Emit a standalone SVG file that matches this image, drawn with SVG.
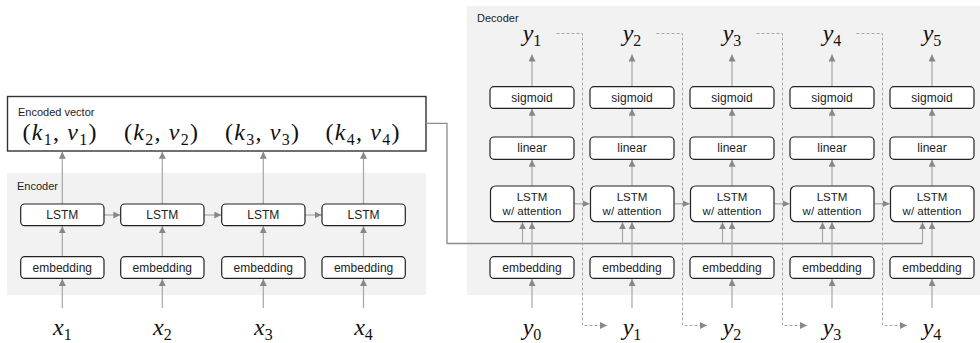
<svg xmlns="http://www.w3.org/2000/svg" width="980" height="343" viewBox="0 0 980 343">
  <defs>
    <marker id="arr" markerUnits="userSpaceOnUse" markerWidth="8" markerHeight="8" refX="7" refY="3.5" orient="auto">
      <path d="M0,0 L7,3.5 L0,7 z" fill="#888"/>
    </marker>
    <style>
      .panel { fill: #f2f2f2; }
      .box { fill: #fff; stroke: #222; stroke-width: 1.2; }
      .lbl { font-family: "Liberation Sans", Arial, sans-serif; font-size: 12px; fill: #222; text-anchor: middle; }
      .lbl2 { font-family: "Liberation Sans", Arial, sans-serif; font-size: 11.5px; fill: #222; text-anchor: middle; }
      .title { font-family: "Liberation Sans", Arial, sans-serif; font-size: 11px; fill: #222; }
      .math { font-family: "Liberation Serif", "Times New Roman", serif; font-size: 24px; font-style: italic; fill: #111; text-anchor: middle; }
      .sub { font-size: 16px; font-style: normal; }
      .up { font-style: normal; }
      .wire { fill: none; stroke: #a6a6a6; stroke-width: 1.2; marker-end: url(#arr); }
      .bus { fill: none; stroke: #8c8c8c; stroke-width: 1.3; }
      .dash { fill: none; stroke: #a6a6a6; stroke-width: 1; stroke-dasharray: 3 2; marker-end: url(#arr); }
    </style>
  </defs>

  <!-- background panels -->
  <rect class="panel" x="7" y="173" width="419" height="122"/>
  <rect class="panel" x="466.7" y="6" width="513.3" height="289"/>
  <text class="title" x="17" y="190">Encoder</text>
  <text class="title" x="477" y="22">Decoder</text>

  <!-- encoded vector -->
  <g id="encoded-vector">
    <rect x="7.5" y="96.5" width="418.5" height="54.5" fill="#fff" stroke="#333" stroke-width="1.4"/>
    <text class="title" x="18" y="116">Encoded vector</text>
    <text class="math" x="59.5" y="140" textLength="74" lengthAdjust="spacing"><tspan class="up">(</tspan>k<tspan class="sub" dy="5">1</tspan><tspan class="up" dy="-5">, </tspan>v<tspan class="sub" dy="5">1</tspan><tspan class="up" dy="-5">)</tspan></text>
    <text class="math" x="161" y="140" textLength="74" lengthAdjust="spacing"><tspan class="up">(</tspan>k<tspan class="sub" dy="5">2</tspan><tspan class="up" dy="-5">, </tspan>v<tspan class="sub" dy="5">2</tspan><tspan class="up" dy="-5">)</tspan></text>
    <text class="math" x="262" y="140" textLength="74" lengthAdjust="spacing"><tspan class="up">(</tspan>k<tspan class="sub" dy="5">3</tspan><tspan class="up" dy="-5">, </tspan>v<tspan class="sub" dy="5">3</tspan><tspan class="up" dy="-5">)</tspan></text>
    <text class="math" x="362.5" y="140" textLength="74" lengthAdjust="spacing"><tspan class="up">(</tspan>k<tspan class="sub" dy="5">4</tspan><tspan class="up" dy="-5">, </tspan>v<tspan class="sub" dy="5">4</tspan><tspan class="up" dy="-5">)</tspan></text>
  </g>

  <!-- connectors -->
  <g id="connectors">
    <!-- encoder inputs -->
    <line class="wire" x1="62.3" y1="308" x2="62.3" y2="279"/>
    <line class="wire" x1="162.3" y1="308" x2="162.3" y2="279"/>
    <line class="wire" x1="263.3" y1="308" x2="263.3" y2="279"/>
    <line class="wire" x1="363.5" y1="308" x2="363.5" y2="279"/>
    <!-- encoder embedding to LSTM -->
    <line class="wire" x1="62.3" y1="256.7" x2="62.3" y2="226.2"/>
    <line class="wire" x1="162.3" y1="256.7" x2="162.3" y2="226.2"/>
    <line class="wire" x1="263.3" y1="256.7" x2="263.3" y2="226.2"/>
    <line class="wire" x1="363.5" y1="256.7" x2="363.5" y2="226.2"/>
    <!-- encoder LSTM to encoded vector -->
    <line class="wire" x1="62.3" y1="204" x2="62.3" y2="151.8"/>
    <line class="wire" x1="162.3" y1="204" x2="162.3" y2="151.8"/>
    <line class="wire" x1="263.3" y1="204" x2="263.3" y2="151.8"/>
    <line class="wire" x1="363.5" y1="204" x2="363.5" y2="151.8"/>
    <!-- encoder recurrence -->
    <line class="wire" x1="104" y1="215" x2="120.3" y2="215"/>
    <line class="wire" x1="204" y1="215" x2="221.3" y2="215"/>
    <line class="wire" x1="305" y1="215" x2="321.6" y2="215"/>

    <!-- context bus into the decoder -->
    <path class="bus" d="M426,123.3 H447 V243.5 H922.5"/>
    <line class="wire" x1="522.5" y1="243.5" x2="522.5" y2="222.2"/>
    <line class="wire" x1="622.5" y1="243.5" x2="622.5" y2="222.2"/>
    <line class="wire" x1="722.5" y1="243.5" x2="722.5" y2="222.2"/>
    <line class="wire" x1="822.5" y1="243.5" x2="822.5" y2="222.2"/>
    <line class="wire" x1="922.5" y1="243.5" x2="922.5" y2="222.2"/>

    <!-- decoder inputs -->
    <line class="wire" x1="532" y1="308" x2="532" y2="279"/>
    <line class="wire" x1="632" y1="308" x2="632" y2="279"/>
    <line class="wire" x1="732" y1="308" x2="732" y2="279"/>
    <line class="wire" x1="832" y1="308" x2="832" y2="279"/>
    <line class="wire" x1="932" y1="308" x2="932" y2="279"/>
    <!-- decoder embedding to LSTM -->
    <line class="wire" x1="532" y1="256.7" x2="532" y2="222.2"/>
    <line class="wire" x1="632" y1="256.7" x2="632" y2="222.2"/>
    <line class="wire" x1="732" y1="256.7" x2="732" y2="222.2"/>
    <line class="wire" x1="832" y1="256.7" x2="832" y2="222.2"/>
    <line class="wire" x1="932" y1="256.7" x2="932" y2="222.2"/>
    <!-- LSTM to linear -->
    <line class="wire" x1="532" y1="186" x2="532" y2="159.8"/>
    <line class="wire" x1="632" y1="186" x2="632" y2="159.8"/>
    <line class="wire" x1="732" y1="186" x2="732" y2="159.8"/>
    <line class="wire" x1="832" y1="186" x2="832" y2="159.8"/>
    <line class="wire" x1="932" y1="186" x2="932" y2="159.8"/>
    <!-- linear to sigmoid -->
    <line class="wire" x1="532" y1="137" x2="532" y2="108.8"/>
    <line class="wire" x1="632" y1="137" x2="632" y2="108.8"/>
    <line class="wire" x1="732" y1="137" x2="732" y2="108.8"/>
    <line class="wire" x1="832" y1="137" x2="832" y2="108.8"/>
    <line class="wire" x1="932" y1="137" x2="932" y2="108.8"/>
    <!-- sigmoid to outputs -->
    <line class="wire" x1="532" y1="86.7" x2="532" y2="54.5"/>
    <line class="wire" x1="632" y1="86.7" x2="632" y2="54.5"/>
    <line class="wire" x1="732" y1="86.7" x2="732" y2="54.5"/>
    <line class="wire" x1="832" y1="86.7" x2="832" y2="54.5"/>
    <line class="wire" x1="932" y1="86.7" x2="932" y2="54.5"/>
    <!-- decoder recurrence -->
    <line class="wire" x1="574" y1="203.8" x2="589.6" y2="203.8"/>
    <line class="wire" x1="674" y1="203.8" x2="689.6" y2="203.8"/>
    <line class="wire" x1="774" y1="203.8" x2="789.6" y2="203.8"/>
    <line class="wire" x1="874" y1="203.8" x2="889.6" y2="203.8"/>
    <!-- outputs fed back as next inputs -->
    <path class="dash" d="M556.5,33.5 H582.5 V325.5 H607"/>
    <path class="dash" d="M656.5,33.5 H682.5 V325.5 H707"/>
    <path class="dash" d="M756.5,33.5 H782.5 V325.5 H807"/>
    <path class="dash" d="M856.5,33.5 H882.5 V325.5 H907"/>
  </g>

  <!-- encoder nodes -->
  <g id="enc-lstm-1"><rect class="box" x="20.7" y="204" width="83.3" height="21.7" rx="4"/><text class="lbl" x="62.3" y="219">LSTM</text></g>
  <g id="enc-lstm-2"><rect class="box" x="120.7" y="204" width="83.3" height="21.7" rx="4"/><text class="lbl" x="162.3" y="219">LSTM</text></g>
  <g id="enc-lstm-3"><rect class="box" x="221.7" y="204" width="83.3" height="21.7" rx="4"/><text class="lbl" x="263.3" y="219">LSTM</text></g>
  <g id="enc-lstm-4"><rect class="box" x="322" y="204" width="83.3" height="21.7" rx="4"/><text class="lbl" x="363.6" y="219">LSTM</text></g>
  <g id="enc-emb-1"><rect class="box" x="20.7" y="256.7" width="83.3" height="21.7" rx="4"/><text class="lbl" x="62.3" y="271.7">embedding</text></g>
  <g id="enc-emb-2"><rect class="box" x="120.7" y="256.7" width="83.3" height="21.7" rx="4"/><text class="lbl" x="162.3" y="271.7">embedding</text></g>
  <g id="enc-emb-3"><rect class="box" x="221.7" y="256.7" width="83.3" height="21.7" rx="4"/><text class="lbl" x="263.3" y="271.7">embedding</text></g>
  <g id="enc-emb-4"><rect class="box" x="322" y="256.7" width="83.3" height="21.7" rx="4"/><text class="lbl" x="363.6" y="271.7">embedding</text></g>

  <!-- encoder inputs -->
  <g id="x-inputs">
    <text class="math" x="62.3" y="335">x<tspan class="sub" dy="5">1</tspan></text>
    <text class="math" x="162.3" y="335">x<tspan class="sub" dy="5">2</tspan></text>
    <text class="math" x="263.3" y="335">x<tspan class="sub" dy="5">3</tspan></text>
    <text class="math" x="363.5" y="335">x<tspan class="sub" dy="5">4</tspan></text>
  </g>

  <!-- decoder columns -->
  <g id="dec-col-1">
    <rect class="box" x="490" y="86.7" width="84" height="21.7" rx="4"/><text class="lbl" x="532" y="101.7">sigmoid</text>
    <rect class="box" x="490" y="137" width="84" height="22.3" rx="4"/><text class="lbl" x="532" y="152.3">linear</text>
    <rect class="box" x="490.5" y="186" width="83.5" height="35.7" rx="5"/><text class="lbl2" x="532" y="200.5">LSTM</text><text class="lbl2" x="532" y="215">w/ attention</text>
    <rect class="box" x="490" y="256.7" width="84" height="21.7" rx="4"/><text class="lbl" x="532" y="271.7">embedding</text>
  </g>
  <g id="dec-col-2">
    <rect class="box" x="590" y="86.7" width="84" height="21.7" rx="4"/><text class="lbl" x="632" y="101.7">sigmoid</text>
    <rect class="box" x="590" y="137" width="84" height="22.3" rx="4"/><text class="lbl" x="632" y="152.3">linear</text>
    <rect class="box" x="590.5" y="186" width="83.5" height="35.7" rx="5"/><text class="lbl2" x="632" y="200.5">LSTM</text><text class="lbl2" x="632" y="215">w/ attention</text>
    <rect class="box" x="590" y="256.7" width="84" height="21.7" rx="4"/><text class="lbl" x="632" y="271.7">embedding</text>
  </g>
  <g id="dec-col-3">
    <rect class="box" x="690" y="86.7" width="84" height="21.7" rx="4"/><text class="lbl" x="732" y="101.7">sigmoid</text>
    <rect class="box" x="690" y="137" width="84" height="22.3" rx="4"/><text class="lbl" x="732" y="152.3">linear</text>
    <rect class="box" x="690.5" y="186" width="83.5" height="35.7" rx="5"/><text class="lbl2" x="732" y="200.5">LSTM</text><text class="lbl2" x="732" y="215">w/ attention</text>
    <rect class="box" x="690" y="256.7" width="84" height="21.7" rx="4"/><text class="lbl" x="732" y="271.7">embedding</text>
  </g>
  <g id="dec-col-4">
    <rect class="box" x="790" y="86.7" width="84" height="21.7" rx="4"/><text class="lbl" x="832" y="101.7">sigmoid</text>
    <rect class="box" x="790" y="137" width="84" height="22.3" rx="4"/><text class="lbl" x="832" y="152.3">linear</text>
    <rect class="box" x="790.5" y="186" width="83.5" height="35.7" rx="5"/><text class="lbl2" x="832" y="200.5">LSTM</text><text class="lbl2" x="832" y="215">w/ attention</text>
    <rect class="box" x="790" y="256.7" width="84" height="21.7" rx="4"/><text class="lbl" x="832" y="271.7">embedding</text>
  </g>
  <g id="dec-col-5">
    <rect class="box" x="890" y="86.7" width="84" height="21.7" rx="4"/><text class="lbl" x="932" y="101.7">sigmoid</text>
    <rect class="box" x="890" y="137" width="84" height="22.3" rx="4"/><text class="lbl" x="932" y="152.3">linear</text>
    <rect class="box" x="890.5" y="186" width="83.5" height="35.7" rx="5"/><text class="lbl2" x="932" y="200.5">LSTM</text><text class="lbl2" x="932" y="215">w/ attention</text>
    <rect class="box" x="890" y="256.7" width="84" height="21.7" rx="4"/><text class="lbl" x="932" y="271.7">embedding</text>
  </g>

  <!-- decoder outputs -->
  <g id="y-outputs">
    <text class="math" x="532" y="41">y<tspan class="sub" dy="5">1</tspan></text>
    <text class="math" x="632" y="41">y<tspan class="sub" dy="5">2</tspan></text>
    <text class="math" x="732" y="41">y<tspan class="sub" dy="5">3</tspan></text>
    <text class="math" x="832" y="41">y<tspan class="sub" dy="5">4</tspan></text>
    <text class="math" x="932" y="41">y<tspan class="sub" dy="5">5</tspan></text>
  </g>

  <!-- decoder inputs -->
  <g id="y-inputs">
    <text class="math" x="532" y="335">y<tspan class="sub" dy="5">0</tspan></text>
    <text class="math" x="632" y="335">y<tspan class="sub" dy="5">1</tspan></text>
    <text class="math" x="732" y="335">y<tspan class="sub" dy="5">2</tspan></text>
    <text class="math" x="832" y="335">y<tspan class="sub" dy="5">3</tspan></text>
    <text class="math" x="932" y="335">y<tspan class="sub" dy="5">4</tspan></text>
  </g>
</svg>
